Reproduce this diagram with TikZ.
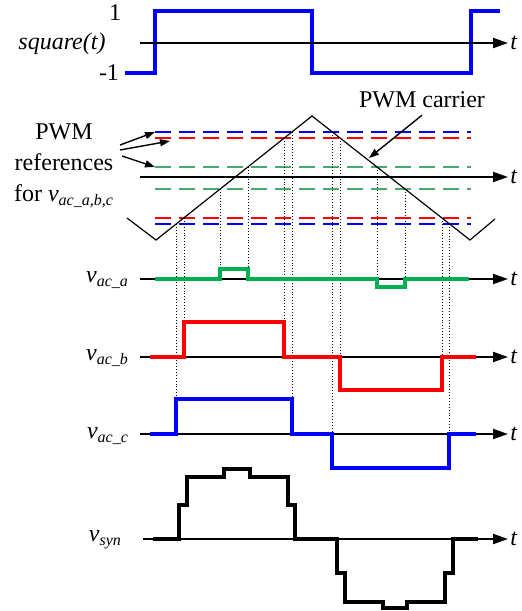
\documentclass[tikz,border=0pt]{standalone}
\usepackage{amsmath}
\usepackage{fontspec}
\setmainfont{Liberation Serif}
\usetikzlibrary{arrows.meta}
\definecolor{wblue}{RGB}{0,0,255}
\definecolor{wred}{RGB}{255,0,0}
\definecolor{wgreen}{RGB}{0,176,80}
\definecolor{lgreen}{RGB}{70,170,110}
\tikzset{
  axis/.style={line width=1pt,-{Triangle[length=7.5pt,width=5pt]}},
  wave/.style={line width=1.6pt},
  refline/.style={line width=0.8pt,dash pattern=on 8pt off 4pt},
  guide/.style={line width=0.45pt,densely dotted},
  tlab/.style={right,inner sep=1pt,font=\fontsize{12}{14}\selectfont\itshape},
  vlab/.style={anchor=east},
}
\begin{document}
\begin{tikzpicture}[x=0.5pt,y=-0.5pt,>={Triangle[length=5pt,width=3.5pt]},
  font=\fontsize{12}{15.5}\selectfont]
\useasboundingbox (0,0) rectangle (522,611);
%Song vuong
\coordinate (sq0) at (140,43);
\coordinate (sq1) at (508,43);
\draw[wave,wblue] (125,73) -| (155,11) -| (312,73) -| (471,11) -- (500,11);
\draw[axis] (sq0) -- (sq1);
\node[tlab] (tsq) at (sq1) {t};
\node (sqlab) at (62,44) {\itshape square(t)};
\node (one) at (115,13) {1};
\node (mone) at (109,73) {-1};
%Duong tham chieu
\draw[refline,wblue] (155,132) coordinate (refb) -- (471,132);
\draw[refline,wred] (155,138) -- (471,138);
\draw[refline,lgreen] (155,167) coordinate (refg) -- (471,167);
\draw[refline,lgreen] (155,189) -- (471,189);
\draw[refline,wred] (155,218) -- (471,218);
\draw[refline,wblue] (155,224) -- (471,224);
\coordinate (refr) at (170,141);
%Song mang
\coordinate (ca0) at (140,177);
\coordinate (ca1) at (508,177);
\draw[axis] (ca0) -- (ca1);
\node[tlab] (tca) at (ca1) {t};
\draw[line width=0.6pt] (127,218) -- (156,240) -- (312,116) -- (470,240) -- (495,219);
%Chu thich
\node[align=center] (pwmref) at (64,166) {PWM\\references\\for $\textit{v}_{\textit{ac\_a,b,c}}$};
\coordinate (tail1) at (120,145);
\coordinate (tail2) at (120,150);
\coordinate (tail3) at (122,156);
\draw[->,line width=0.7pt] (tail1) -- (refb);
\draw[->,line width=0.7pt] (tail2) -- (refr);
\draw[->,line width=0.7pt] (tail3) -- (refg);
\node (carr) at (422,100) {PWM carrier};
\coordinate (cartip) at (369,158);
\draw[->,line width=0.7pt] (carr.south) -- (cartip);
%Duong chieu
\draw[guide] (176,224) -- (176,399);
\draw[guide] (184,218) -- (184,322);
\draw[guide] (220,189) -- (220,269);
\draw[guide] (248,167) -- (248,269);
\draw[guide] (284,138) -- (284,357);
\draw[guide] (292,132) -- (292,434);
\draw[guide] (332,132) -- (332,434);
\draw[guide] (340,138) -- (340,357);
\draw[guide] (377,167) -- (377,279);
\draw[guide] (405,189) -- (405,279);
\draw[guide] (442,218) -- (442,357);
\draw[guide] (449,224) -- (449,434);
%Pha a
\coordinate (pa0) at (140,279);
\coordinate (pa1) at (508,279);
\draw[axis] (pa0) -- (pa1);
\node[tlab] (tpa) at (pa1) {t};
\draw[wave,wgreen] (155,279) -- (220,279) |- (248,269) |- (377,279) |- (405,287) |- (469,279);
\node[vlab] (va) at (136,280) {$\textit{v}_{\textit{ac\_a}}$};
%Pha b
\coordinate (pb0) at (140,357);
\coordinate (pb1) at (508,357);
\draw[axis] (pb0) -- (pb1);
\node[tlab] (tpb) at (pb1) {t};
\draw[wave,wred] (150,357) -- (184,357) |- (284,322) |- (340,357) |- (442,390) |- (476,357);
\node[vlab] (vb) at (136,358) {$\textit{v}_{\textit{ac\_b}}$};
%Pha c
\coordinate (pc0) at (140,434);
\coordinate (pc1) at (508,434);
\draw[axis] (pc0) -- (pc1);
\node[tlab] (tpc) at (pc1) {t};
\draw[wave,wblue] (150,434) -- (176,434) |- (292,399) |- (332,434) |- (449,468) |- (476,434);
\node[vlab] (vc) at (136,436) {$\textit{v}_{\textit{ac\_c}}$};
%Dien ap tong
\coordinate (ps0) at (143,539);
\coordinate (ps1) at (508,539);
\draw[axis] (ps0) -- (ps1);
\node[tlab] (tps) at (ps1) {t};
\draw[wave] (153,539) -- (179,539) |- (187,505) |- (224,477) |- (250,469) |- (288,477) |- (295,505)
  |- (337,539) |- (345,573) |- (383,602) |- (407,608) |- (445,602) |- (453,573) |- (478,539);
\node[vlab] (vs) at (129,540) {$\textit{v}_{\textit{syn}}$};
\end{tikzpicture}
\end{document}
